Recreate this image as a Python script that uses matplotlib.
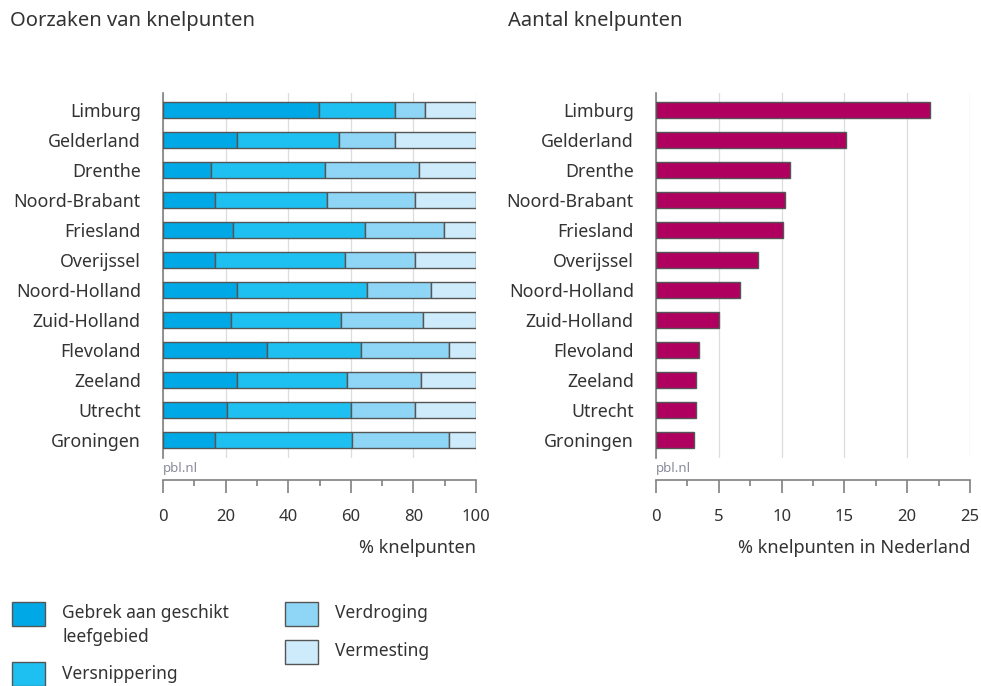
import matplotlib
matplotlib.use("Agg")
import matplotlib.pyplot as plt
from matplotlib.patches import Rectangle
from matplotlib.ticker import MultipleLocator
import numpy as np

plt.rcParams['font.family'] = ['Noto Sans', 'DejaVu Sans']

provinces = ["Limburg", "Gelderland", "Drenthe", "Noord-Brabant", "Friesland",
             "Overijssel", "Noord-Holland", "Zuid-Holland", "Flevoland",
             "Zeeland", "Utrecht", "Groningen"]

# Causes (% of bottlenecks per province)
gebrek = [49.7, 23.6, 15.3, 16.5, 22.3, 16.5, 23.6, 21.7, 33.2, 23.6, 20.4, 16.5]
versnippering = [24.4, 32.7, 36.5, 35.8, 42.3, 41.7, 41.7, 35.2, 30.0, 35.1, 39.7, 43.8]
verdroging = [9.6, 17.8, 30.1, 28.2, 25.2, 22.3, 20.3, 26.3, 28.2, 23.6, 20.4, 31.1]
vermesting = [16.3, 25.9, 18.1, 19.5, 10.2, 19.5, 14.4, 16.8, 8.6, 17.7, 19.5, 8.6]

# Share of bottlenecks in the Netherlands
aantal = [21.8, 15.1, 10.7, 10.3, 10.1, 8.1, 6.7, 5.0, 3.4, 3.2, 3.2, 3.0]

cause_labels = ["Gebrek aan geschikt\nleefgebied", "Versnippering", "Verdroging", "Vermesting"]
cause_colors = ["#00A9E6", "#1EC0F2", "#8FD6F6", "#CDEBFA"]
magenta = "#B0005F"
edge = "#555555"
txt = "#333333"
grey = "#808080"

fig = plt.figure(figsize=(9.81, 6.86), dpi=100)
W, H = 981, 686

def make_ax(x0, x1):
    return fig.add_axes([x0 / W, 1 - 458 / H, (x1 - x0) / W, 365 / H])

axL = make_ax(163, 476)
axR = make_ax(656, 970)

y = np.arange(len(provinces))
bh = 0.52

left = np.zeros(len(provinces))
for vals, col, lab in zip([gebrek, versnippering, verdroging, vermesting], cause_colors, cause_labels):
    axL.barh(y, vals, left=left, height=bh, color=col, edgecolor=edge, linewidth=1.0,
             zorder=3, label=lab)
    left = left + np.array(vals)

axR.barh(y, aantal, height=bh, color=magenta, edgecolor=edge, linewidth=1.0, zorder=3)

def style(ax, xmax, major, minor, xlabel):
    ax.set_xlim(0, xmax)
    ax.set_ylim(11.6, -0.57)
    ax.set_yticks(y)
    ax.set_yticklabels(provinces, fontsize=12.8, color=txt)
    ax.tick_params(axis='y', length=0, pad=16)
    ax.xaxis.set_major_locator(MultipleLocator(major))
    ax.xaxis.set_minor_locator(MultipleLocator(minor))
    ax.tick_params(axis='x', which='major', length=9, width=1.2, color=grey,
                   labelsize=12, labelcolor=txt, pad=12)
    ax.tick_params(axis='x', which='minor', length=4, width=1.2, color=grey)
    ax.grid(axis='x', which='major', color='#dddddd', linewidth=0.9, zorder=0)
    for s in ['top', 'right']:
        ax.spines[s].set_visible(False)
    ax.spines['left'].set_color(grey)
    ax.spines['left'].set_linewidth(1.2)
    ax.spines['bottom'].set_color(grey)
    ax.spines['bottom'].set_linewidth(1.2)
    ax.spines['bottom'].set_position(('outward', 16))
    ax.set_xlabel(xlabel, loc='right', fontsize=13, color=txt, labelpad=10)
    ax.text(0, -0.012, "pbl.nl", transform=ax.transAxes, ha='left', va='top',
            fontsize=9.5, color='#8a8a9a')

style(axL, 100, 20, 10, "% knelpunten")
style(axR, 25, 5, 2.5, "% knelpunten in Nederland")

fig.text(10 / W, 1 - 21 / H, "Oorzaken van knelpunten", fontsize=14.5, color=txt, va='center', ha='left')
fig.text(508 / W, 1 - 21 / H, "Aantal knelpunten", fontsize=14.5, color=txt, va='center', ha='left')

# Legend (manually laid out to match the reference's two-column block)
legend_pos = [(12, 602, 62, 604), (12, 662, 62, 674), (285, 602, 335, 613), (285, 640, 335, 651)]
for col, lab, (bx, by, tx, ty) in zip(cause_colors, cause_labels, legend_pos):
    fig.add_artist(Rectangle((bx / W, 1 - (by + 24) / H), 33 / W, 24 / H,
                             transform=fig.transFigure, facecolor=col,
                             edgecolor=edge, linewidth=1.0))
    fig.text(tx / W, 1 - ty / H, lab, fontsize=12.5, color=txt,
             va='top' if '\n' in lab else 'center', ha='left', linespacing=1.45)

fig.savefig("out.png", dpi=100)
